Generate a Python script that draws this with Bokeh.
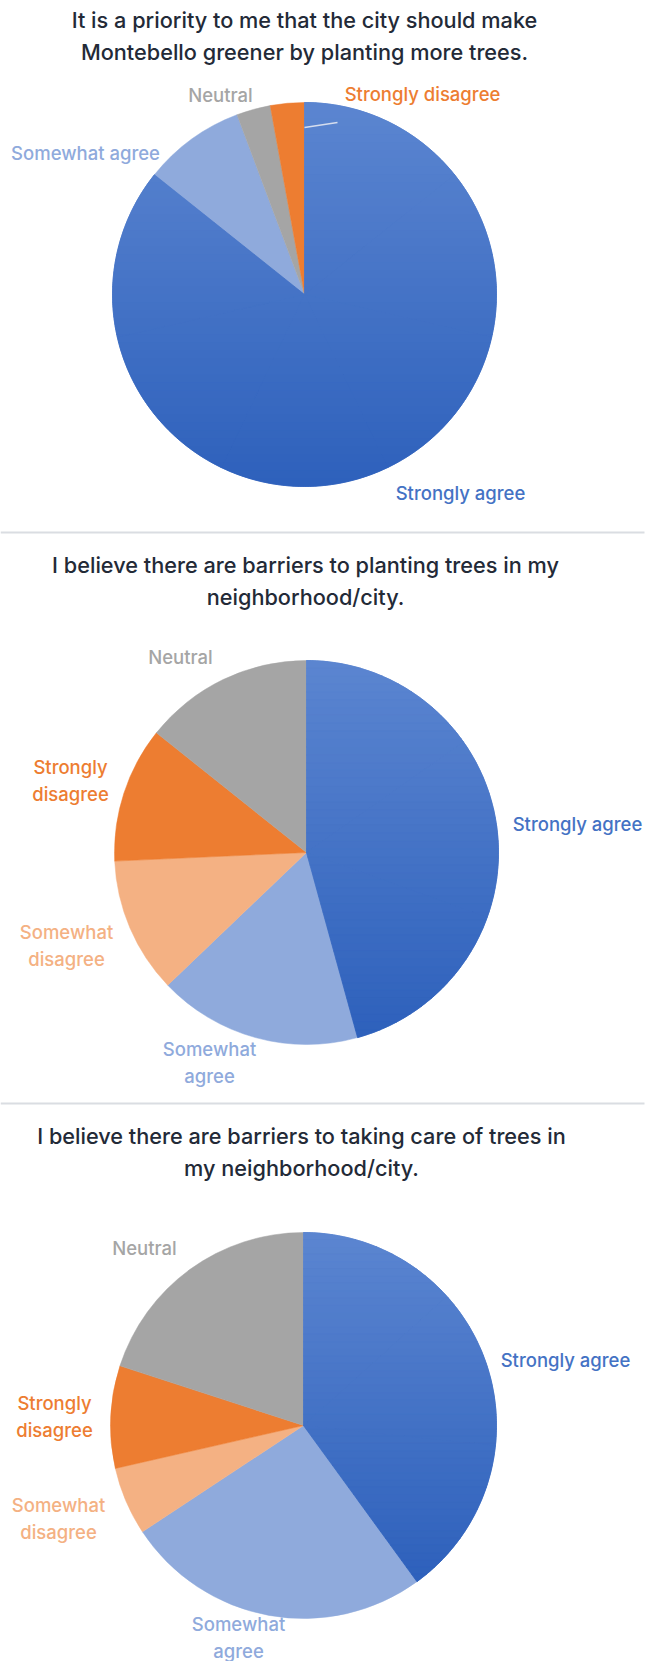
import numpy as np
from bokeh.plotting import figure
from bokeh.models import Range1d, ColumnDataSource
from bokeh.core.properties import value
from bokeh.embed import file_html
from bokeh.resources import INLINE

# ---------------- data ----------------
titles = [
    "It is a priority to me that the city should make\nMontebello greener by planting more trees.",
    "I believe there are barriers to planting trees in my\nneighborhood/city.",
    "I believe there are barriers to taking care of trees in\nmy neighborhood/city.",
]

categories_1 = ["Strongly agree", "Somewhat agree", "Neutral", "Strongly disagree"]
counts_1 = [30, 3, 1, 1]
labels_1 = ["Strongly agree", "Somewhat agree", "Neutral", "Strongly disagree"]

categories_2 = ["Strongly agree", "Somewhat agree", "Somewhat disagree", "Strongly disagree", "Neutral"]
counts_2 = [16, 6, 4, 4, 5]
labels_2 = ["Strongly agree", "Somewhat\nagree", "Somewhat\ndisagree", "Strongly\ndisagree", "Neutral"]

categories_3 = ["Strongly agree", "Somewhat agree", "Somewhat disagree", "Strongly disagree", "Neutral"]
counts_3 = [14, 9, 2, 3, 7]
labels_3 = ["Strongly agree", "Somewhat\nagree", "Somewhat\ndisagree", "Strongly\ndisagree", "Neutral"]

# ---------------- styles / layout ----------------
W, H = 656, 1661
COLORS = {
    "Strongly agree": "#4472C4",
    "Somewhat agree": "#8FAADC",
    "Somewhat disagree": "#F4B183",
    "Strongly disagree": "#ED7D31",
    "Neutral": "#A5A5A5",
}
GRAD_TOP = np.array([0x5C, 0x86, 0xD1])
GRAD_BOT = np.array([0x2E, 0x61, 0xBC])
TITLE_COLOR = "#232A37"
FONT = "Inter Medium, Inter"
TITLE_SIZE = "21.7px"
LABEL_SIZE = "18.5px"
LABEL_SPACING = 27
TITLE_SPACING = 32

# pie geometry in page pixels (y downward): centre x, centre y, radius
pies = [
    dict(cx=304, cy=294, r=192, title_xy=(304, 35),
         label_xy=[(460, 492), (85, 152), (220, 94), (422, 93)]),
    dict(cx=306, cy=852, r=192, title_xy=(305, 580),
         label_xy=[(577, 823), (209, 1062), (66, 945), (70, 780), (180, 656)]),
    dict(cx=303, cy=1425, r=193, title_xy=(301, 1151),
         label_xy=[(565, 1359), (238, 1637), (58, 1518), (54, 1416), (144, 1247)]),
]
separators_y = [532, 1103]

p = figure(width=W, height=H, x_range=Range1d(0, W), y_range=Range1d(0, H),
           output_backend="svg", toolbar_location=None, min_border=0,
           x_axis_location=None, y_axis_location=None)
p.grid.visible = False
p.outline_line_color = None
p.background_fill_color = "white"
p.border_fill_color = "white"


def Y(v):
    return H - v


def clip_half(poly, keep, ycut):
    out = []
    n = len(poly)
    for i in range(n):
        a = poly[i]
        b = poly[(i + 1) % n]
        ain, bin_ = keep(a[1]), keep(b[1])
        if ain:
            out.append(a)
        if ain != bin_:
            t = (ycut - a[1]) / (b[1] - a[1])
            out.append((a[0] + t * (b[0] - a[0]), ycut))
    return out


def sector_poly(cx, cy, r, t0, t1):
    n = max(8, int(abs(t1 - t0) * 2)) + 1
    th = np.radians(np.linspace(t0, t1, n))
    return [(cx, cy)] + [(cx + r * np.sin(t), cy - r * np.cos(t)) for t in th]


def split_lines(texts, centers, spacing):
    xs, ys, tx, idx = [], [], [], []
    for i, (t, (x, y)) in enumerate(zip(texts, centers)):
        parts = t.split("\n")
        n = len(parts)
        for k, s in enumerate(parts):
            xs.append(x)
            ys.append(Y(y + (k - (n - 1) / 2) * spacing))
            tx.append(s)
            idx.append(i)
    return xs, ys, tx, idx


all_data = [
    (categories_1, counts_1, labels_1),
    (categories_2, counts_2, labels_2),
    (categories_3, counts_3, labels_3),
]

for (cats, counts, labs), g, title in zip(all_data, pies, titles):
    total = float(sum(counts))
    frac = np.array(counts) / total
    ends = np.cumsum(frac) * 360.0
    starts = ends - frac * 360.0
    src = ColumnDataSource(dict(
        start=np.radians(90 - starts), end=np.radians(90 - ends),
        color=[COLORS[c] for c in cats],
    ))
    p.wedge(x=g["cx"], y=Y(g["cy"]), radius=g["r"], start_angle="start",
            end_angle="end", direction="clock", fill_color="color",
            line_color="color", line_width=0.5, source=src)

    # vertical gradient on the "Strongly agree" slice (split into convex pieces)
    for c, s, e in zip(cats, starts, ends):
        if c != "Strongly agree":
            continue
        npieces = int(np.ceil((e - s) / 60.0))
        bounds = np.linspace(s, e, npieces + 1)
        polys = [sector_poly(g["cx"], g["cy"], g["r"], bounds[i], bounds[i + 1])
                 for i in range(npieces)]
        ally = [q[1] for poly in polys for q in poly]
        y0, y1 = min(ally), max(ally)
        nb = 48
        edges = np.linspace(y0, y1, nb + 1)
        xs_l, ys_l, cols = [], [], []
        for k in range(nb):
            lo, hi = edges[k], edges[k + 1]
            t = (k + 0.5) / nb
            rgb = (GRAD_TOP * (1 - t) + GRAD_BOT * t).astype(int)
            col = "#%02x%02x%02x" % tuple(rgb)
            for poly in polys:
                pp = clip_half(poly, lambda v, lo=lo: v >= lo, lo)
                pp = clip_half(pp, lambda v, hi=hi: v <= hi, hi) if pp else []
                if len(pp) < 3:
                    continue
                xs_l.append([q[0] for q in pp])
                ys_l.append([Y(q[1]) for q in pp])
                cols.append(col)
        p.patches(xs=xs_l, ys=ys_l, fill_color=cols, line_color=cols, line_width=0.8)

    # labels
    xs, ys, tx, idx = split_lines(labs, g["label_xy"], LABEL_SPACING)
    lsrc = ColumnDataSource(dict(x=xs, y=ys, text=tx,
                                 color=[COLORS[cats[i]] for i in idx]))
    p.text(x="x", y="y", text="text", text_color="color", source=lsrc,
           text_font=value(FONT), text_font_size=value(LABEL_SIZE),
           text_align="center", text_baseline="middle")

    # title
    xs, ys, tx, _ = split_lines([title], [g["title_xy"]], TITLE_SPACING)
    p.text(x=xs, y=ys, text=tx, text_color=TITLE_COLOR, text_font=value(FONT),
           text_font_size=value(TITLE_SIZE), text_align="center",
           text_baseline="middle")

# leader line for the small "Strongly disagree" slice in chart 1
p.segment(x0=[304], y0=[Y(127)], x1=[337], y1=[Y(122)], line_color="#D5DDEE", line_width=1.5)

# separators
p.segment(x0=[0, 0], y0=[Y(v) for v in separators_y], x1=[644, 644],
          y1=[Y(v) for v in separators_y], line_color="#DADDE2", line_width=2)

open("out.html", "w").write(file_html(p, INLINE))
